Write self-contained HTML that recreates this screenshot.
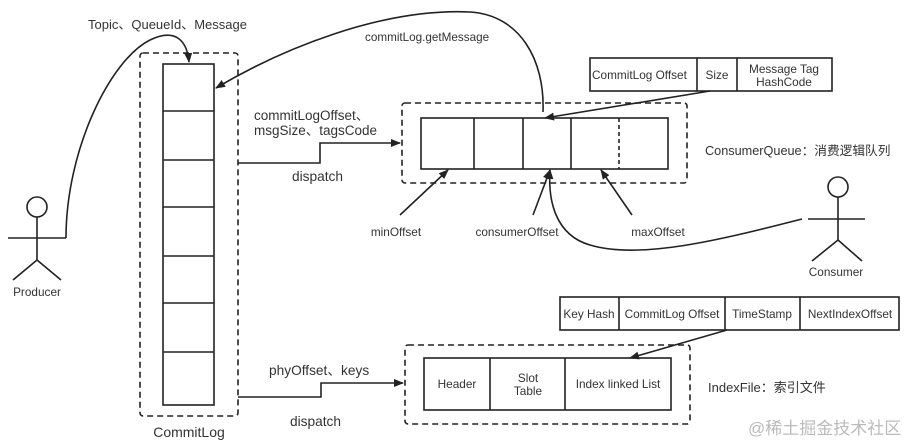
<!DOCTYPE html>
<html><head><meta charset="utf-8"><style>
body{margin:0;background:#fff}
svg{display:block}
text{font-family:"Liberation Sans","Noto Sans CJK SC",sans-serif;fill:#333}
</style></head><body>
<svg width="912" height="445" viewBox="0 0 912 445" xmlns="http://www.w3.org/2000/svg" font-size="11.8">
<defs><marker id="a" markerWidth="10" markerHeight="8" refX="9" refY="4" orient="auto" markerUnits="userSpaceOnUse"><path d="M0,0 L10,4 L0,8z" fill="#222"/></marker></defs>
<g stroke="#222" stroke-width="1.6" fill="none">
<rect x="140" y="53" width="98" height="363" rx="3" stroke-dasharray="6,4"/>
<rect x="163" y="64" width="51" height="341"/>
<path d="M163 111H214M163 160H214M163 207H214M163 256H214M163 303H214M163 352H214"/>
<circle cx="37" cy="207" r="10"/>
<path d="M37 217V260M8 238H66M37 260L13 280M37 260L61 280"/>
<path d="M66 238C66 150 110 60 150 40C175 28 187 40 189 62" marker-end="url(#a)"/>
<path d="M543 112C545 60 520 15 470 12C380 8 280 50 216 88" marker-end="url(#a)"/>
<path d="M238 163H320V143H400" marker-end="url(#a)"/>
<path d="M238 397H321V383H403" marker-end="url(#a)"/>
<rect x="402" y="103" width="285" height="80" rx="3" stroke-dasharray="6,4"/>
<rect x="421" y="118" width="247" height="51"/>
<path d="M474 118V169M523 118V169M571 118V169"/>
<path d="M619 118V169" stroke-dasharray="4,3"/>
<rect x="590" y="58" width="242" height="33"/>
<path d="M697 58V91M737 58V91"/>
<path d="M710 91L545 118" marker-end="url(#a)"/>
<path d="M400 215L448 170" marker-end="url(#a)"/>
<path d="M533 215L550 170" marker-end="url(#a)"/>
<path d="M632 215L601 170" marker-end="url(#a)"/>
<path d="M802 219C720 240 640 260 590 245C555 235 548 200 550 170" marker-end="url(#a)"/>
<circle cx="838" cy="187" r="10"/>
<path d="M838 197V240M808 219H865M838 240L812 261M838 240L862 261"/>
<rect x="560" y="297" width="339" height="33"/>
<path d="M619 297V330M725 297V330M800 297V330"/>
<rect x="405" y="345" width="285" height="79" rx="3" stroke-dasharray="6,4"/>
<rect x="424" y="358" width="247" height="52"/>
<path d="M490 358V410M565 358V410"/>
<path d="M727 330L630 358" marker-end="url(#a)"/>
</g>
<text x="88" y="29" font-size="13">Topic、QueueId、Message</text>
<text x="365" y="41" font-size="11.7">commitLog.getMessage</text>
<text x="254" y="120" font-size="13.5">commitLogOffset、</text>
<text x="254" y="135" font-size="13.5">msgSize、tagsCode</text>
<text x="292" y="181" font-size="13.7">dispatch</text>
<text x="269" y="375" font-size="13.7">phyOffset、keys</text>
<text x="290" y="426" font-size="13.7">dispatch</text>
<text x="189" y="437" font-size="14" text-anchor="middle">CommitLog</text>
<text x="37" y="296" text-anchor="middle">Producer</text>
<text x="592" y="79">CommitLog Offset</text>
<text x="717" y="79" text-anchor="middle">Size</text>
<text x="784" y="73" text-anchor="middle">Message Tag</text>
<text x="784" y="86" text-anchor="middle">HashCode</text>
<text x="705" y="155" font-size="12.7">ConsumerQueue：消费逻辑队列</text>
<text x="396" y="236" text-anchor="middle">minOffset</text>
<text x="517" y="236" text-anchor="middle">consumerOffset</text>
<text x="658" y="236" text-anchor="middle">maxOffset</text>
<text x="836" y="276" text-anchor="middle">Consumer</text>
<text x="589" y="318" text-anchor="middle">Key Hash</text>
<text x="672" y="318" text-anchor="middle">CommitLog Offset</text>
<text x="762" y="318" text-anchor="middle">TimeStamp</text>
<text x="850" y="318" text-anchor="middle">NextIndexOffset</text>
<text x="457" y="388" text-anchor="middle">Header</text>
<text x="528" y="382" text-anchor="middle">Slot</text>
<text x="528" y="395" text-anchor="middle">Table</text>
<text x="618" y="388" text-anchor="middle">Index linked List</text>
<text x="708" y="392" font-size="13">IndexFile：索引文件</text>
<text x="748" y="434" font-size="17" style="fill:#bbb">@稀土掘金技术社区</text>
</svg>
</body></html>
